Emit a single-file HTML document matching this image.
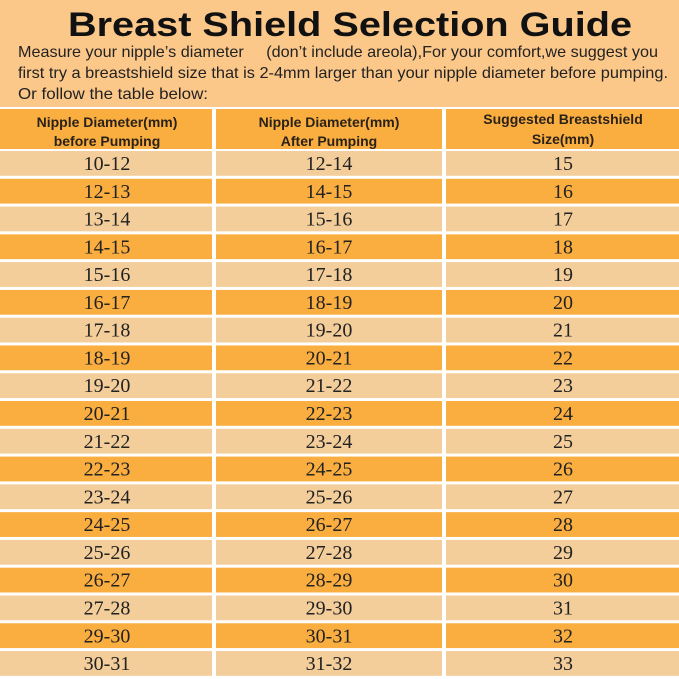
<!DOCTYPE html>
<html><head><meta charset="utf-8"><style>html,body{margin:0;padding:0;background:#FCC88A;}svg{display:block}</style></head>
<body>
<svg width="679" height="679" viewBox="0 0 679 679" xmlns="http://www.w3.org/2000/svg">
<rect width="679" height="679" fill="#FCC88A"/>
<text x="68" y="36" font-family="Liberation Sans, sans-serif" font-weight="bold" font-size="34" fill="#111" textLength="564" lengthAdjust="spacingAndGlyphs">Breast Shield Selection Guide</text>
<g font-family="Liberation Sans, sans-serif" font-size="16" fill="#222">
<text x="18" y="57" textLength="640" lengthAdjust="spacingAndGlyphs" xml:space="preserve">Measure your nipple’s diameter     (don’t include areola),For your comfort,we suggest you</text>
<text x="18" y="78" textLength="650" lengthAdjust="spacingAndGlyphs">first try a breastshield size that is 2-4mm larger than your nipple diameter before pumping.</text>
<text x="18" y="99" textLength="190" lengthAdjust="spacingAndGlyphs">Or follow the table below:</text>
</g>
<rect x="0" y="107" width="679" height="572" fill="#FFFFFF"/>
<g fill="#FBAE40">
<rect x="0" y="109" width="212" height="40"/><rect x="216" y="109" width="226" height="40"/><rect x="446" y="109" width="233" height="40"/>
</g>
<g font-family="Liberation Sans, sans-serif" font-weight="bold" font-size="14" fill="#2a2218" text-anchor="middle">
<text x="107" y="127">Nipple Diameter(mm)</text><text x="107" y="146">before Pumping</text>
<text x="329" y="127">Nipple Diameter(mm)</text><text x="329" y="146">After Pumping</text>
<text x="563" y="124">Suggested Breastshield</text><text x="563" y="144">Size(mm)</text>
</g>
<g id="rows" font-family="Liberation Serif, serif" font-size="20" fill="#222" text-anchor="middle"></g>
</svg>
<script>
var d=[["10-12","12-14",15],["12-13","14-15",16],["13-14","15-16",17],["14-15","16-17",18],["15-16","17-18",19],["16-17","18-19",20],["17-18","19-20",21],["18-19","20-21",22],["19-20","21-22",23],["20-21","22-23",24],["21-22","23-24",25],["22-23","24-25",26],["23-24","25-26",27],["24-25","26-27",28],["25-26","27-28",29],["26-27","28-29",30],["27-28","29-30",31],["29-30","30-31",32],["30-31","31-32",33]];
var g=document.getElementById("rows"),s="";
for(var i=0;i<d.length;i++){var y=151+i*27.78;var c=i%2?"#FBAE40":"#F3CE9B";
s+='<rect x="0" y="'+y+'" width="212" height="24.8" fill="'+c+'"/><rect x="216" y="'+y+'" width="226" height="24.8" fill="'+c+'"/><rect x="446" y="'+y+'" width="233" height="24.8" fill="'+c+'"/>';
var ty=y+19;s+='<text x="107" y="'+ty+'">'+d[i][0]+'</text><text x="329" y="'+ty+'">'+d[i][1]+'</text><text x="563" y="'+ty+'">'+d[i][2]+'</text>';}
g.innerHTML=s;
</script>
</body></html>
